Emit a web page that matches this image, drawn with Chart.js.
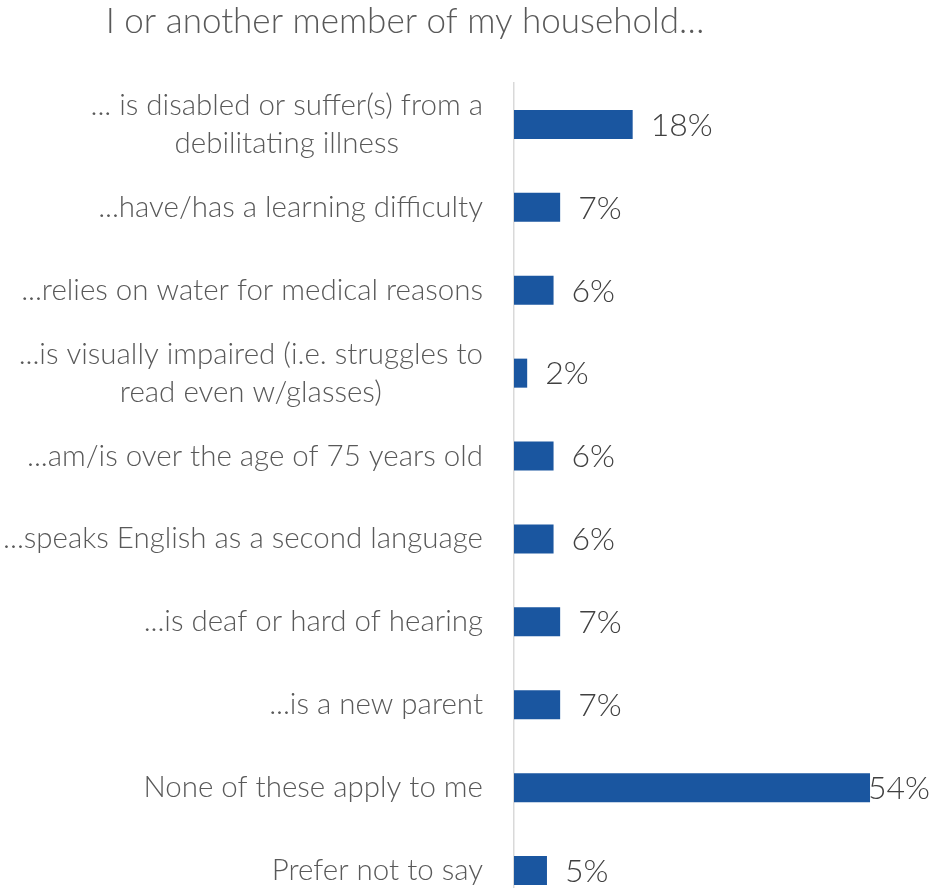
<!DOCTYPE html>
<html>
<head>
<meta charset="utf-8">
<script src="https://cdn.jsdelivr.net/npm/chart.js@4/dist/chart.umd.min.js"></script>
<style>
  html, body { margin: 0; padding: 0; background: #fff; overflow: hidden; }
</style>
</head>
<body>
<canvas id="barChart" width="932" height="912"></canvas>
<script>
var chartTitle = "I or another member of my household\u2026";
var categories = [
    ["... is disabled or suffer(s) from a", "debilitating illness"],
    "...have/has a learning difficulty",
    "...relies on water for medical reasons",
    ["...is visually impaired (i.e. struggles to", "read even w/glasses)"],
    "...am/is over the age of 75 years old",
    "...speaks English as a second language",
    "...is deaf or hard of hearing",
    "...is a new parent",
    "None of these apply to me",
    "Prefer not to say"
];
var values = [18, 7, 6, 2, 6, 6, 7, 7, 54, 5];

var FONT = "Lato, 'Liberation Sans', sans-serif";

// title, category labels (lines centred, block right-aligned) and value labels
var labelsPlugin = {
    id: 'labelsPlugin',
    afterDraw: function(chart) {
        var ctx = chart.ctx;
        ctx.save();
        ctx.fillStyle = '#595959';
        ctx.font = '300 35px ' + FONT;
        ctx.textAlign = 'center';
        ctx.textBaseline = 'middle';
        ctx.fillText(chartTitle, 405, 22);

        var yScale = chart.scales.y;
        ctx.font = '300 29.5px ' + FONT;
        categories.forEach(function(cat, i) {
            var lines = Array.isArray(cat) ? cat : [cat];
            var maxW = 0;
            lines.forEach(function(l) { maxW = Math.max(maxW, ctx.measureText(l).width); });
            var cx = yScale.right - 31 - maxW / 2;
            var cy = yScale.getPixelForTick(i);
            lines.forEach(function(l, j) {
                ctx.fillText(l, cx, cy + (j - (lines.length - 1) / 2) * 38);
            });
        });

        ctx.fillStyle = '#404040';
        ctx.font = '300 32px ' + FONT;
        ctx.textAlign = 'left';
        var meta = chart.getDatasetMeta(0);
        meta.data.forEach(function(bar, i) {
            var txt = values[i] + '%';
            var w = ctx.measureText(txt).width;
            var x = Math.min(bar.x + 18, chart.width - w - 2);
            ctx.fillText(txt, x, bar.y + 1);
        });
        ctx.restore();
    }
};

var bar = document.getElementById('barChart');
var barChart = new Chart(bar, {
    type: 'bar',
    data: {
        labels: categories,
        datasets: [{
            data: values,
            backgroundColor: '#1A56A0',
            borderWidth: 0,
            barPercentage: 0.35,
            categoryPercentage: 1.0
        }]
    },
    options: {
        indexAxis: 'y',
        responsive: false,
        animation: false,
        layout: { padding: { top: 83, bottom: 0, left: 0, right: 0 } },
        plugins: {
            legend: { display: false },
            tooltip: { enabled: false }
        },
        scales: {
            x: {
                display: false,
                min: 0,
                max: 63.4
            },
            y: {
                grid: { display: false, drawTicks: false },
                border: { display: true, color: '#d9d9d9', width: 1.5 },
                ticks: { display: false },
                afterFit: function(scale) {
                    scale.width = 514;
                    scale.paddingTop = 0;
                    scale.paddingBottom = 0;
                }
            }
        }
    },
    plugins: [labelsPlugin]
});
</script>
</body>
</html>
